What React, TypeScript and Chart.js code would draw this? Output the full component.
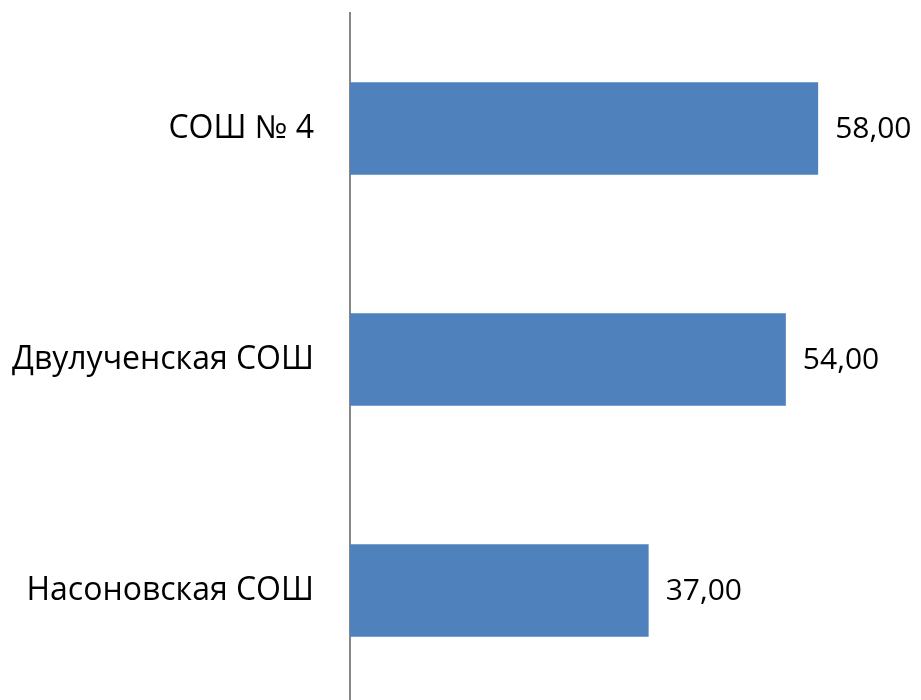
import React, { useEffect, useRef } from "react";
import { Chart, registerables } from "chart.js";

Chart.register(...registerables);

const categories = ["СОШ № 4", "Двулученская СОШ", "Насоновская СОШ"];
const values = [58, 54, 37];
const valueLabels = ["58,00", "54,00", "37,00"];

const FONT = "'Open Sans', sans-serif";
const VALUE_SIZE = 30;
const LABEL_SIZE = 32;

const dataLabelPlugin = {
  id: "dataLabels",
  afterDatasetsDraw(chart: any) {
    const ctx = chart.ctx;
    const meta = chart.getDatasetMeta(0);
    ctx.save();
    ctx.font = `${VALUE_SIZE}px ${FONT}`;
    ctx.fillStyle = "#000000";
    ctx.textAlign = "left";
    ctx.textBaseline = "middle";
    meta.data.forEach((bar: any, i: number) => {
      ctx.fillText(valueLabels[i], bar.x + 17, bar.y + 1);
    });
    ctx.restore();
  },
};

export default function App() {
  const ref = useRef<HTMLCanvasElement>(null);
  useEffect(() => {
    if (!ref.current) return;
    const chart = new Chart(ref.current, {
      type: "bar",
      data: {
        labels: categories,
        datasets: [
          {
            data: values,
            backgroundColor: "#4F81BD",
            borderWidth: 0,
            categoryPercentage: 0.4,
            barPercentage: 1,
          },
        ],
      },
      options: {
        indexAxis: "y",
        animation: false,
        responsive: false,
        layout: { padding: { top: 13, bottom: 8, right: 6, left: 0 } },
        plugins: { legend: { display: false }, tooltip: { enabled: false } },
        scales: {
          x: { display: false, min: 0, max: 70 },
          y: {
            afterFit(scale: any) {
              scale.width = 350;
              scale.paddingTop = 0;
              scale.paddingBottom = 0;
            },
            grid: { display: false, drawTicks: false },
            border: { display: true, color: "#868686", width: 2 },
            ticks: {
              padding: 36,
              color: "#000000",
              font: { family: FONT, size: LABEL_SIZE },
            },
          },
        },
      },
      plugins: [dataLabelPlugin],
    });
    return () => chart.destroy();
  }, []);
  return (
    <div
      style={{
        position: "fixed",
        top: 0,
        left: 0,
        width: 921,
        height: 700,
        overflow: "hidden",
        background: "#fff",
      }}
    >
      <canvas ref={ref} width={921} height={714} style={{ display: "block" }} />
    </div>
  );
}
